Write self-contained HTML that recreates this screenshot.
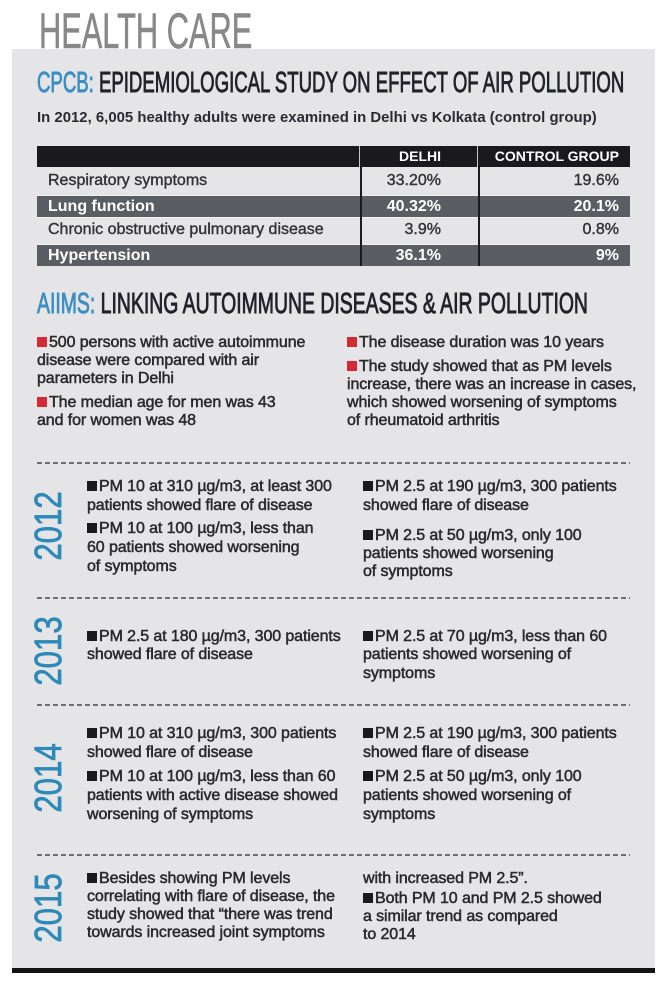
<!DOCTYPE html>
<html><head><meta charset="utf-8">
<style>
html,body{margin:0;padding:0;background:#fff;}
body{width:660px;height:983px;position:relative;overflow:hidden;font-family:"Liberation Sans",sans-serif;}
.a{position:absolute;white-space:nowrap;}
.fit{transform-origin:0 0;}
#panel{position:absolute;left:12px;top:49px;width:643px;height:919px;background:#e5e5e7;}
#bar{position:absolute;left:12px;top:968px;width:643px;height:5px;background:#141414;}
.h1{font-size:50px;line-height:50px;color:#888;-webkit-text-stroke:0.6px #888;}
.h2{font-size:29px;line-height:29px;color:#22222a;-webkit-text-stroke:0.9px #22222a;}
.h2 span{color:#3a8ec4;-webkit-text-stroke:0.9px #3a8ec4;}
.sub{font-size:15px;line-height:18px;font-weight:bold;color:#2a2a33;}
.b{font-size:16px;line-height:18px;color:#2a2a2a;-webkit-text-stroke:0.5px #2a2a2a;letter-spacing:-0.1px;}
.sq{display:inline-block;width:10px;height:10px;background:#1b1b1b;margin-right:2px;vertical-align:0;-webkit-text-stroke:0;}
.sq.r{background:#d42a33;}
.dash{position:absolute;left:37px;width:593px;height:2px;background:repeating-linear-gradient(90deg,#6e6e6e 0 5px,rgba(0,0,0,0) 5px 8px);}
.yr{position:absolute;font-size:38px;line-height:38px;color:#2d8ab8;-webkit-text-stroke:0.8px #2d8ab8;white-space:nowrap;transform:translate(-50%,-50%) rotate(-90deg) scaleX(0.82);}
.blk{position:absolute;}
.tl{font-size:16px;line-height:18px;color:#333;-webkit-text-stroke:0.4px #333;}
.tw{font-size:16px;line-height:18px;color:#fff;font-weight:bold;}
.th{font-size:14px;line-height:18px;color:#fff;font-weight:bold;}
</style></head>
<body>
<div id="panel"></div>
<div id="bar"></div>

<div class="a h1 fit" style="left:39px;top:6px;--w:213px;transform:scaleX(0.61)">HEALTH CARE</div>

<div class="a h2 fit" style="left:37px;top:69px;--w:587px;transform:scaleX(0.637)"><span>CPCB:</span> EPIDEMIOLOGICAL STUDY ON EFFECT OF AIR POLLUTION</div>

<div class="a sub fit" style="left:37px;top:109px;--w:560px;transform:scaleX(0.88)">In 2012, 6,005 healthy adults were examined in Delhi vs Kolkata (control group)</div>

<!-- table -->
<div class="blk" style="left:37px;top:146px;width:593px;height:21px;background:#19191e;"></div>
<div class="blk" style="left:359px;top:146px;width:1px;height:21px;background:#c8c8cc;"></div>
<div class="blk" style="left:477px;top:146px;width:1px;height:21px;background:#c8c8cc;"></div>
<div class="blk" style="left:37px;top:196px;width:593px;height:21px;background:#5a5e63;"></div>
<div class="blk" style="left:37px;top:245px;width:593px;height:21px;background:#5a5e63;"></div>
<div class="blk" style="left:37px;top:195px;width:593px;height:1px;background:#f1f1f3;"></div>
<div class="blk" style="left:37px;top:217px;width:593px;height:1px;background:#f1f1f3;"></div>
<div class="blk" style="left:37px;top:244px;width:593px;height:1px;background:#f1f1f3;"></div>
<div class="blk" style="left:360px;top:167px;width:2px;height:99px;background:#1b1b1f;"></div>
<div class="blk" style="left:478px;top:167px;width:2px;height:99px;background:#1b1b1f;"></div>

<div class="a th" style="right:219px;top:147px;">DELHI</div>
<div class="a th" style="right:41px;top:147px;">CONTROL GROUP</div>

<div class="a tl" style="left:48px;top:171.5px;">Respiratory symptoms</div>
<div class="a tl" style="right:219px;top:171.5px;">33.20%</div>
<div class="a tl" style="right:41px;top:171.5px;">19.6%</div>

<div class="a tw" style="left:48px;top:197.5px;">Lung function</div>
<div class="a tw" style="right:219px;top:197.5px;">40.32%</div>
<div class="a tw" style="right:41px;top:197.5px;">20.1%</div>

<div class="a tl" style="left:48px;top:220.5px;">Chronic obstructive pulmonary disease</div>
<div class="a tl" style="right:219px;top:220.5px;">3.9%</div>
<div class="a tl" style="right:41px;top:220.5px;">0.8%</div>

<div class="a tw" style="left:48px;top:246.5px;">Hypertension</div>
<div class="a tw" style="right:219px;top:246.5px;">36.1%</div>
<div class="a tw" style="right:41px;top:246.5px;">9%</div>

<!-- AIIMS -->
<div class="a h2 fit" style="left:37px;top:290px;--w:551px;transform:scaleX(0.666)"><span>AIIMS:</span> LINKING AUTOIMMUNE DISEASES &amp; AIR POLLUTION</div>

<div class="a b" style="left:37px;top:333.5px;"><span class="sq r"></span>500 persons with active autoimmune</div>
<div class="a b" style="left:37px;top:351.5px;">disease were compared with air</div>
<div class="a b" style="left:37px;top:369.5px;">parameters in Delhi</div>
<div class="a b" style="left:37px;top:393.5px;"><span class="sq r"></span>The median age for men was 43</div>
<div class="a b" style="left:37px;top:411.5px;">and for women was 48</div>

<div class="a b" style="left:347px;top:333.5px;"><span class="sq r"></span>The disease duration was 10 years</div>
<div class="a b" style="left:347px;top:357.5px;"><span class="sq r"></span>The study showed that as PM levels</div>
<div class="a b" style="left:347px;top:375.5px;">increase, there was an increase in cases,</div>
<div class="a b" style="left:347px;top:393.5px;">which showed worsening of symptoms</div>
<div class="a b" style="left:347px;top:411.5px;">of rheumatoid arthritis</div>

<div class="dash" style="top:462px;"></div>
<div class="dash" style="top:597px;"></div>
<div class="dash" style="top:704px;"></div>
<div class="dash" style="top:854px;"></div>

<!-- 2012 -->
<div class="yr" style="left:49px;top:526px;">2012</div>
<div class="a b" style="left:87px;top:477.5px;"><span class="sq"></span>PM 10 at 310 µg/m3, at least 300</div>
<div class="a b" style="left:87px;top:496.5px;">patients showed flare of disease</div>
<div class="a b" style="left:87px;top:519.5px;"><span class="sq"></span>PM 10 at 100 µg/m3, less than</div>
<div class="a b" style="left:87px;top:538.5px;">60 patients showed worsening</div>
<div class="a b" style="left:87px;top:557.5px;">of symptoms</div>

<div class="a b" style="left:363px;top:477.5px;"><span class="sq"></span>PM 2.5 at 190 µg/m3, 300 patients</div>
<div class="a b" style="left:363px;top:496.5px;">showed flare of disease</div>
<div class="a b" style="left:363px;top:526.5px;"><span class="sq"></span>PM 2.5 at 50 µg/m3, only 100</div>
<div class="a b" style="left:363px;top:544.5px;">patients showed worsening</div>
<div class="a b" style="left:363px;top:562.5px;">of symptoms</div>

<!-- 2013 -->
<div class="yr" style="left:49px;top:651px;">2013</div>
<div class="a b" style="left:87px;top:627.5px;"><span class="sq"></span>PM 2.5 at 180 µg/m3, 300 patients</div>
<div class="a b" style="left:87px;top:645.5px;">showed flare of disease</div>

<div class="a b" style="left:363px;top:627.5px;"><span class="sq"></span>PM 2.5 at 70 µg/m3, less than 60</div>
<div class="a b" style="left:363px;top:645.5px;">patients showed worsening of</div>
<div class="a b" style="left:363px;top:664.5px;">symptoms</div>

<!-- 2014 -->
<div class="yr" style="left:49px;top:778px;">2014</div>
<div class="a b" style="left:87px;top:724.5px;"><span class="sq"></span>PM 10 at 310 µg/m3, 300 patients</div>
<div class="a b" style="left:87px;top:743.5px;">showed flare of disease</div>
<div class="a b" style="left:87px;top:767.5px;"><span class="sq"></span>PM 10 at 100 µg/m3, less than 60</div>
<div class="a b" style="left:87px;top:786.5px;">patients with active disease showed</div>
<div class="a b" style="left:87px;top:805.5px;">worsening of symptoms</div>

<div class="a b" style="left:363px;top:724.5px;"><span class="sq"></span>PM 2.5 at 190 µg/m3, 300 patients</div>
<div class="a b" style="left:363px;top:743.5px;">showed flare of disease</div>
<div class="a b" style="left:363px;top:767.5px;"><span class="sq"></span>PM 2.5 at 50 µg/m3, only 100</div>
<div class="a b" style="left:363px;top:786.5px;">patients showed worsening of</div>
<div class="a b" style="left:363px;top:805.5px;">symptoms</div>

<!-- 2015 -->
<div class="yr" style="left:49px;top:908px;">2015</div>
<div class="a b" style="left:87px;top:869.5px;"><span class="sq"></span>Besides showing PM levels</div>
<div class="a b" style="left:87px;top:887.5px;">correlating with flare of disease, the</div>
<div class="a b" style="left:87px;top:905.5px;">study showed that “there was trend</div>
<div class="a b" style="left:87px;top:923.5px;">towards increased joint symptoms</div>

<div class="a b" style="left:363px;top:869.5px;">with increased PM 2.5”.</div>
<div class="a b" style="left:363px;top:889.5px;"><span class="sq"></span>Both PM 10 and PM 2.5 showed</div>
<div class="a b" style="left:363px;top:907.5px;">a similar trend as compared</div>
<div class="a b" style="left:363px;top:925.5px;">to 2014</div>

<script>
(function(){
  var els=document.querySelectorAll('.fit');
  for(var i=0;i<els.length;i++){
    var el=els[i];
    var w=parseFloat(getComputedStyle(el).getPropertyValue('--w'));
    var n=el.offsetWidth;
    if(w&&n){el.style.transform='scaleX('+(w/n)+')';}
  }
})();
</script>
</body></html>
